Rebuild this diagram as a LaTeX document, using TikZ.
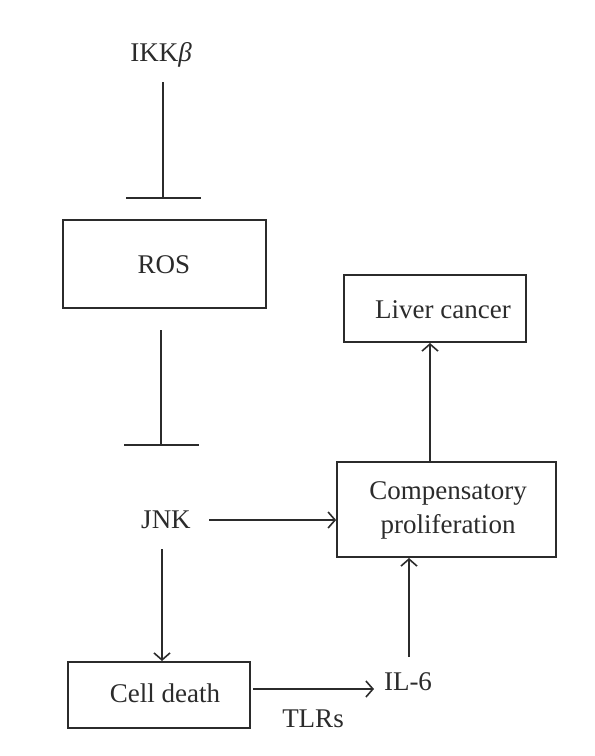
\documentclass[tikz,border=0pt]{standalone}
\usepackage{fontspec}
\setmainfont{Liberation Serif}
\usetikzlibrary{arrows.meta}
\definecolor{ink}{HTML}{2B2B2B}
\begin{document}
\begin{tikzpicture}[x=1pt,y=-1pt,
  every node/.style={font=\fontsize{27}{30}\selectfont, text=ink, inner sep=0pt},
  boxnode/.style={draw=ink, line width=1.7pt, rectangle, align=center},
  conn/.style={draw=ink, line width=1.7pt},
  act/.style={conn, -{Straight Barb[length=7pt,width=16pt,line width=1.6pt]}},
  inhib/.style={conn, -{Bar[width=75pt,line width=1.7pt]}}]
\useasboundingbox (0,0) rectangle (595,756);
% boxes
\node[boxnode, minimum width=203pt, minimum height=88pt] (ros) at (164.5,264) {};
\node (rost) at (164,265) {ROS};
\node[boxnode, minimum width=182pt, minimum height=67pt] (liver) at (435,308.5) {};
\node (livert) at (443,310) {Liver cancer};
\node[boxnode, minimum width=219pt, minimum height=95pt] (comp) at (446.5,509.5) {};
\node[align=center, font=\fontsize{27}{34}\selectfont] (compt) at (448,510) {Compensatory\\proliferation};
\node[boxnode, minimum width=182pt, minimum height=66pt] (cell) at (159,695) {};
\node (cellt) at (165,693) {Cell death};
% labels
\node (ikk) at (161,55) {IKK\textit{β}};
\node (jnk) at (166,520) {JNK};
\node (il6) at (408,682) {IL-6};
\node (tlrs) at (313,719) {TLRs};
% coordinates for connector ends
\coordinate (a1) at (163,82);
\coordinate (t1) at (163,199);
\coordinate (a2) at (161,330);
\coordinate (t2) at (161,446);
% connectors
\draw[inhib] (a1) -- (t1);
\draw[inhib] (a2) -- (t2);
\draw[act] (209,520) -- (comp.west |- 0,520);
\draw[act] (430,462) -- (430,343);
\draw[act] (162,549) -- (162,661);
\draw[act] (253,689) -- (374,689);
\draw[act] (409,657) -- (409,558);
\end{tikzpicture}
\end{document}
